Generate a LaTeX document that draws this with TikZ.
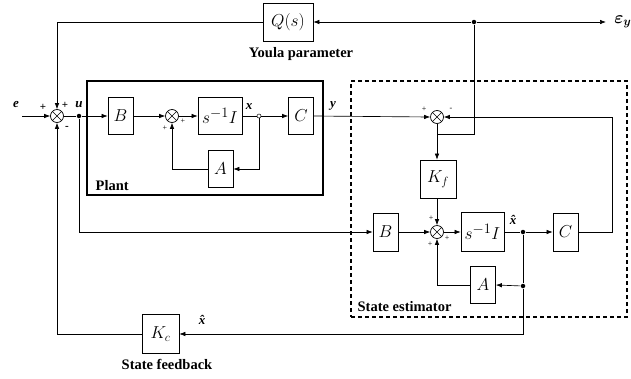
\documentclass[tikz,border=0pt]{standalone}
\usepackage[no-math]{fontspec}
\usepackage{bm}
\setmainfont{Liberation Serif}
\usetikzlibrary{arrows.meta}
\begin{document}
\begin{tikzpicture}[x=1pt,y=-1pt,
  line width=0.65pt,
  >={Latex[length=6pt,width=4.5pt]},
  blk/.style={draw,line width=0.7pt,inner sep=0pt,minimum width=25pt,minimum height=37pt,font=\fontsize{17.5}{20}\selectfont},
  sumj/.style={draw,circle,minimum size=13pt,inner sep=0pt,line width=0.7pt,
    path picture={\draw[line width=0.6pt] (path picture bounding box.north west) -- (path picture bounding box.south east)
      (path picture bounding box.north east) -- (path picture bounding box.south west);}},
  dotj/.style={circle,fill,minimum size=4.5pt,inner sep=0pt},
  lbl/.style={font=\fontsize{14.5}{16}\selectfont\bfseries},
  vlab/.style={font=\fontsize{13}{14}\selectfont\bfseries\itshape},
  sig/.style={font=\fontsize{8}{8}\selectfont},
  bigsig/.style={font=\fontsize{11}{11}\selectfont\bfseries}
]
\useasboundingbox (0,0) rectangle (631,378);
% frames
\node[draw,line width=1.6pt,minimum width=236pt,minimum height=114pt,inner sep=0pt] (plant) at (205,138) {};
\node[draw,line width=1.6pt,dash pattern=on 4pt off 3pt,minimum width=276pt,minimum height=236pt,inner sep=0pt] (est) at (489,199) {};
\node[lbl,anchor=base west] (plantlbl) at (92,190) {Plant};
\node[lbl,anchor=base west] (estlbl) at (354,311) {State estimator};
% blocks
\node[sumj] (S1) at (57,116) {};
\node[blk] (B1) at (120.5,116) {$B$};
\node[sumj] (S2) at (172,116) {};
\node[blk,minimum width=44pt,font=\fontsize{19}{22}\selectfont] (I1) at (220,116) {$s^{-1}I$};
\node[circle,draw,minimum size=4pt,inner sep=0pt,line width=0.5pt] (X1) at (259,116) {};
\node[blk] (C1) at (301,116) {$C$};
\node[blk] (A1) at (220.5,169) {$A$};
\node[blk,minimum width=50pt,minimum height=38pt] (Q) at (288,22) {$Q(s)$};
\node[lbl,anchor=base] (youla) at (301,57) {Youla parameter};
\node[dotj] (E) at (474,22) {};
\coordinate (Eend) at (606,22);
\node[anchor=west,inner sep=0pt,font=\fontsize{18}{20}\selectfont] (eps) at (614,22) {$\bm{\varepsilon}_{\bm{y}}$};
\node[sumj] (S4) at (437,117) {};
\node[blk,minimum width=36pt,minimum height=38pt] (Kf) at (438,179) {$K_f$};
\node[blk,minimum height=38pt] (B2) at (385.5,232) {$B$};
\node[sumj] (S3) at (437,232) {};
\node[blk,minimum width=43pt,minimum height=39pt,font=\fontsize{19}{22}\selectfont] (I2) at (482.5,232) {$s^{-1}I$};
\node[blk,minimum height=38pt] (C2) at (565.5,232) {$C$};
\node[blk] (A2) at (483,285) {$A$};
\node[blk,minimum width=37pt,minimum height=39pt] (Kc) at (160.5,334) {$K_c$};
\node[lbl,anchor=base] (sfb) at (167,369) {State feedback};
\node[dotj] (U) at (79,116) {};
\node[dotj] (XH) at (523,232) {};
\node[dotj] (XA) at (523,286) {};
\coordinate (ein) at (22,116);
\coordinate (K1) at (437,134);
% signal labels
\node[vlab] (le) at (16,104) {e};
\node[vlab] (lu) at (79,105) {u};
\node[vlab] (lx) at (249,107) {x};
\node[vlab] (ly) at (333,106) {y};
\node[vlab] (lxh1) at (513,220) {\^{x}};
\node[vlab] (lxh2) at (202,320) {\^{x}};
% signs
\node[bigsig] (p1) at (43,107) {+};
\node[bigsig] (p2) at (65,105) {+};
\node[bigsig] (m1) at (67,128) {-};
\node[sig] (p3) at (165,128) {+};
\node[sig] (p4) at (183,121) {+};
\node[sig] (p5) at (424,109) {+};
\node[sig] (m2) at (451,109) {-};
\node[sig] (p6) at (431,218) {+};
\node[sig] (p7) at (430,244) {+};
\node[sig] (p8) at (447,238) {+};
% connectors
\draw[->] (ein) -- (S1.west);
\draw (S1.east) -- (U);
\draw[->] (U) -- (B1.west);
\draw[->] (B1.east) -- (S2.west);
\draw[->] (S2.east) -- (I1.west);
\draw (I1.east) -- (X1.west);
\draw[->] (X1.east) -- (C1.west);
\draw[->] (X1.south) |- (A1.east);
\draw[->] (A1.west) -| (S2.south);
\draw[->] (C1.east) -- (S4.west);
\draw[->] (E) -- (Eend);
\draw[->] (E) -- (Q.east);
\draw[->] (Q.west) -| (S1.north);
\draw[->] (S4.south) -- (S4.south |- Kf.north);
\draw (K1) -| (E);
\draw[->] (Kf.south -| S3.north) -- (S3.north);
\draw[->] (C2.east) -- ++(34,0) |- (S4.east);
\draw[->] (U) |- (B2.west);
\draw[->] (B2.east) -- (S3.west);
\draw[->] (S3.east) -- (I2.west);
\draw (I2.east) -- (XH);
\draw[->] (XH) -- (C2.west);
\draw (XH) -- (XA);
\draw[->] (XA) -- (A2.east);
\draw[->] (A2.west) -| (S3.south);
\draw[->] (XA) |- (Kc.east);
\draw[->] (Kc.west) -| (S1.south);
\end{tikzpicture}
\end{document}
